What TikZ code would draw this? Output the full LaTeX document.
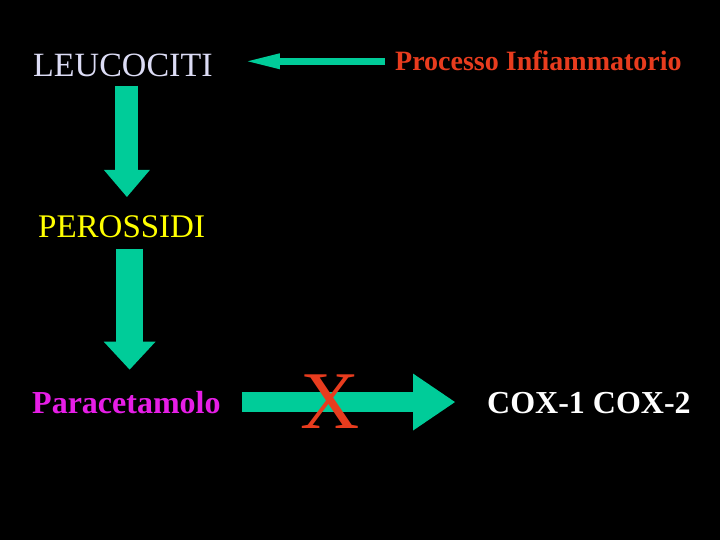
\documentclass[tikz,border=0pt]{standalone}
\usepackage{fontspec}
\setmainfont{Liberation Serif}
\usetikzlibrary{arrows.meta}

\definecolor{verdefreccia}{RGB}{0,204,153}
\definecolor{lavanda}{RGB}{220,220,245}
\definecolor{giallo}{RGB}{255,255,0}
\definecolor{rosso}{RGB}{232,60,30}
\definecolor{magenta}{RGB}{230,30,230}

\begin{document}
\begin{tikzpicture}[
        x=1pt, y=-1pt,
        testo/.style={anchor=base west, inner sep=0pt},
        freccia/.style={verdefreccia, line width=#1}
    ]
        % sfondo
        \fill[black] (0,0) rectangle (720,540);
        \useasboundingbox (0,0) rectangle (720,540);

        \node[testo, text=lavanda, font={\fontsize{34}{40}\selectfont}] (leucociti) at (33,77) {LEUCOCITI};
        \node[testo, text=rosso, font={\fontsize{28}{32}\selectfont\bfseries}] (processo) at (395,71) {Processo Infiammatorio};
        \node[testo, text=giallo, font={\fontsize{33}{40}\selectfont}] (perossidi) at (38,237) {PEROSSIDI};
        \node[testo, text=magenta, font={\fontsize{32}{38}\selectfont\bfseries}] (paracetamolo) at (32,413) {Paracetamolo};
        \node[testo, text=white, font={\fontsize{32}{38}\selectfont\bfseries}] (cox) at (487,413) {COX-1 COX-2};

        \coordinate (asse1) at ([xshift=4pt]leucociti.south);
        \coordinate (asse2) at ([xshift=8pt]perossidi.south);

        \draw[freccia=7pt, -{Triangle[length=32pt, width=16pt, line width=0pt]},
            shorten <=10pt, shorten >=35pt]
            (processo.west) -- (processo.west -| leucociti.east);
        \draw[freccia=23pt, -{Triangle[length=27pt, width=46pt, line width=0pt]},
            shorten <=8pt, shorten >=18pt]
            (asse1) -- (asse1 |- perossidi.north);
        \draw[freccia=27pt, -{Triangle[length=28pt, width=52pt, line width=0pt]},
            shorten <=11pt, shorten >=21pt]
            (asse2) -- (asse2 |- paracetamolo.north);
        \draw[freccia=20pt, -{Triangle[length=42pt, width=57pt, line width=0pt]},
            shorten <=21pt, shorten >=32pt]
            (paracetamolo.east) -- node[pos=0.41, inner sep=0pt, text=rosso,
            font={\fontsize{82}{90}\selectfont}] (blocco) {X}
            (cox.west |- paracetamolo.east);
    \end{tikzpicture}
\end{document}
